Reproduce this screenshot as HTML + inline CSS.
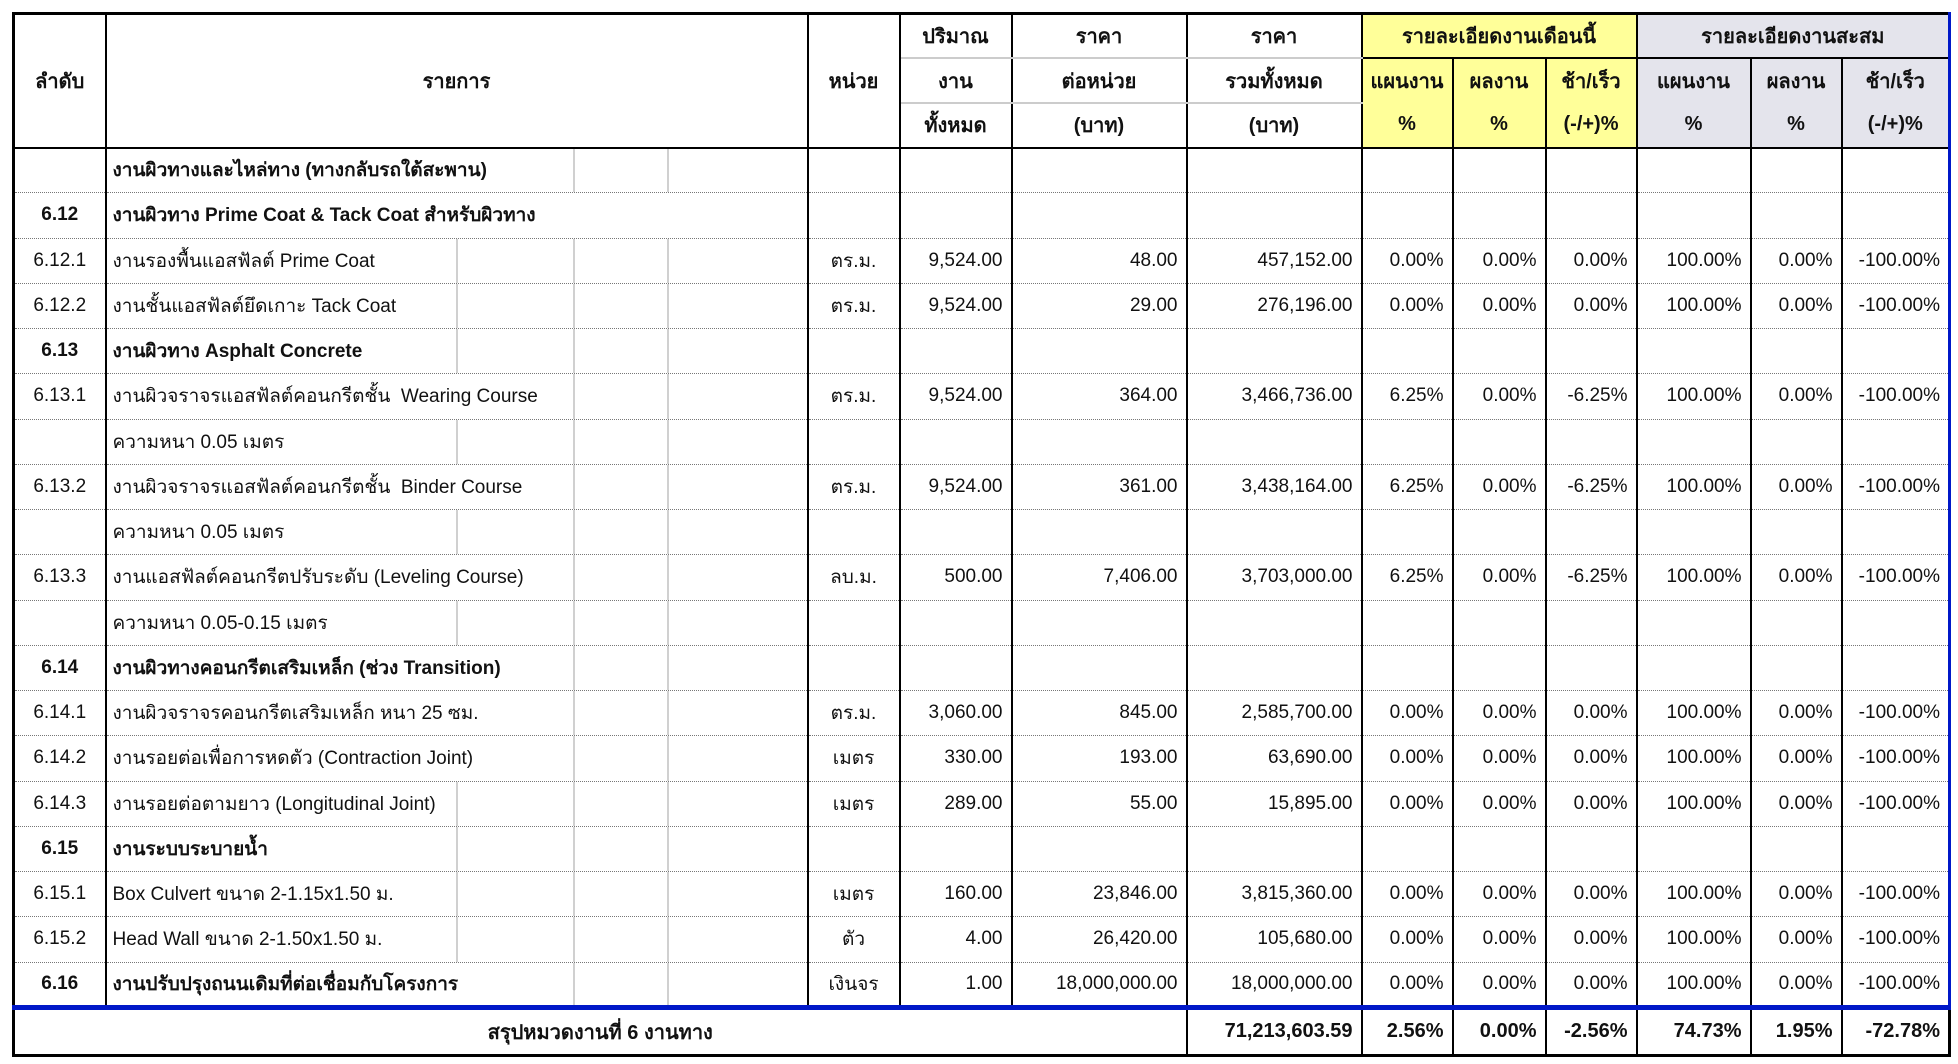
<!DOCTYPE html>
<html><head><meta charset="utf-8">
<style>
body{margin:0;background:#fff;width:1958px;height:1064px;overflow:hidden;font-family:"Liberation Sans","DejaVu Sans",sans-serif;}
table{position:absolute;left:12px;top:12px;border-collapse:collapse;table-layout:fixed;width:1936px;font-size:19px;color:#111;}
td{padding:0 6px;white-space:nowrap;overflow:hidden;border-left:2px solid #000;border-right:2px solid #000;border-bottom:1px dotted #777;vertical-align:middle;}
.h td{border-bottom:none;text-align:center;font-size:20px;font-weight:bold;}
.hr{height:44.7px}
.dr{height:45.26px}
.n{text-align:right;padding-right:8px}
.c{text-align:center}
.b{font-weight:bold}
.y{background:#ffff99}
.g{background:#e4e4ec}
.lg{border-bottom:2px solid #ccc!important}
.l3{background:linear-gradient(90deg,transparent 349px,#d0d0d0 349px,#d0d0d0 351px,transparent 351px,transparent 466px,#d0d0d0 466px,#d0d0d0 468px,transparent 468px,transparent 560px,#d0d0d0 560px,#d0d0d0 562px,transparent 562px)}
.l2{background:linear-gradient(90deg,transparent 466px,#d0d0d0 466px,#d0d0d0 468px,transparent 468px,transparent 560px,#d0d0d0 560px,#d0d0d0 562px,transparent 562px)}
.sum td{border-top:5px solid #0018c8;border-bottom:3px solid #000;height:44px;font-size:20px;font-weight:bold}
</style></head><body>
<table>
<colgroup><col style="width:92px"><col style="width:702px"><col style="width:92px"><col style="width:112px"><col style="width:175px"><col style="width:175px"><col style="width:91px"><col style="width:93px"><col style="width:91px"><col style="width:114px"><col style="width:91px"><col style="width:108px"></colgroup>
<tr class="h hr" style="border-top:3px solid #000"><td rowspan="3" style="border-bottom:2px solid #000;border-left:3px solid #000">ลำดับ</td><td rowspan="3" style="border-bottom:2px solid #000">รายการ</td><td rowspan="3" style="border-bottom:2px solid #000">หน่วย</td><td class="lg">ปริมาณ</td><td class="lg">ราคา</td><td class="lg">ราคา</td><td colspan="3" class="y" style="border-bottom:2px solid #000">รายละเอียดงานเดือนนี้</td><td colspan="3" class="g" style="border-bottom:2px solid #000;border-right:3px solid #0018c8">รายละเอียดงานสะสม</td></tr>
<tr class="h hr"><td class="lg">งาน</td><td class="lg">ต่อหน่วย</td><td class="lg">รวมทั้งหมด</td><td class="y">แผนงาน</td><td class="y">ผลงาน</td><td class="y">ช้า/เร็ว</td><td class="g">แผนงาน</td><td class="g">ผลงาน</td><td class="g" style="border-right:3px solid #0018c8">ช้า/เร็ว</td></tr>
<tr class="h hr"><td style="border-bottom:2px solid #000">ทั้งหมด</td><td style="border-bottom:2px solid #000">(บาท)</td><td style="border-bottom:2px solid #000">(บาท)</td><td class="y" style="border-bottom:2px solid #000">%</td><td class="y" style="border-bottom:2px solid #000">%</td><td class="y" style="border-bottom:2px solid #000">(-/+)%</td><td class="g" style="border-bottom:2px solid #000">%</td><td class="g" style="border-bottom:2px solid #000">%</td><td class="g" style="border-bottom:2px solid #000;border-right:3px solid #0018c8">(-/+)%</td></tr>
<tbody style="border-left:3px solid #000;border-right:3px solid #0018c8">
<tr class="dr"><td></td><td class="b l2">งานผิวทางและไหล่ทาง (ทางกลับรถใต้สะพาน)</td><td></td><td></td><td></td><td></td><td></td><td></td><td></td><td></td><td></td><td></td></tr>
<tr class="dr"><td class="c b">6.12</td><td class="b">งานผิวทาง Prime Coat &amp; Tack Coat สำหรับผิวทาง</td><td></td><td></td><td></td><td></td><td></td><td></td><td></td><td></td><td></td><td></td></tr>
<tr class="dr"><td class="c">6.12.1</td><td class="l3">งานรองพื้นแอสฟัลต์ Prime Coat</td><td class="c">ตร.ม.</td><td class="n">9,524.00</td><td class="n">48.00</td><td class="n">457,152.00</td><td class="n">0.00%</td><td class="n">0.00%</td><td class="n">0.00%</td><td class="n">100.00%</td><td class="n">0.00%</td><td class="n">-100.00%</td></tr>
<tr class="dr"><td class="c">6.12.2</td><td class="l3">งานชั้นแอสฟัลต์ยึดเกาะ Tack Coat</td><td class="c">ตร.ม.</td><td class="n">9,524.00</td><td class="n">29.00</td><td class="n">276,196.00</td><td class="n">0.00%</td><td class="n">0.00%</td><td class="n">0.00%</td><td class="n">100.00%</td><td class="n">0.00%</td><td class="n">-100.00%</td></tr>
<tr class="dr"><td class="c b">6.13</td><td class="b l3">งานผิวทาง Asphalt Concrete</td><td></td><td></td><td></td><td></td><td></td><td></td><td></td><td></td><td></td><td></td></tr>
<tr class="dr"><td class="c">6.13.1</td><td class="l2">งานผิวจราจรแอสฟัลต์คอนกรีตชั้น &nbsp;Wearing Course</td><td class="c">ตร.ม.</td><td class="n">9,524.00</td><td class="n">364.00</td><td class="n">3,466,736.00</td><td class="n">6.25%</td><td class="n">0.00%</td><td class="n">-6.25%</td><td class="n">100.00%</td><td class="n">0.00%</td><td class="n">-100.00%</td></tr>
<tr class="dr"><td></td><td class="l3">ความหนา 0.05 เมตร</td><td></td><td></td><td></td><td></td><td></td><td></td><td></td><td></td><td></td><td></td></tr>
<tr class="dr"><td class="c">6.13.2</td><td class="l2">งานผิวจราจรแอสฟัลต์คอนกรีตชั้น &nbsp;Binder Course</td><td class="c">ตร.ม.</td><td class="n">9,524.00</td><td class="n">361.00</td><td class="n">3,438,164.00</td><td class="n">6.25%</td><td class="n">0.00%</td><td class="n">-6.25%</td><td class="n">100.00%</td><td class="n">0.00%</td><td class="n">-100.00%</td></tr>
<tr class="dr"><td></td><td class="l3">ความหนา 0.05 เมตร</td><td></td><td></td><td></td><td></td><td></td><td></td><td></td><td></td><td></td><td></td></tr>
<tr class="dr"><td class="c">6.13.3</td><td class="l2">งานแอสฟัลต์คอนกรีตปรับระดับ (Leveling Course)</td><td class="c">ลบ.ม.</td><td class="n">500.00</td><td class="n">7,406.00</td><td class="n">3,703,000.00</td><td class="n">6.25%</td><td class="n">0.00%</td><td class="n">-6.25%</td><td class="n">100.00%</td><td class="n">0.00%</td><td class="n">-100.00%</td></tr>
<tr class="dr"><td></td><td class="l3">ความหนา 0.05-0.15 เมตร</td><td></td><td></td><td></td><td></td><td></td><td></td><td></td><td></td><td></td><td></td></tr>
<tr class="dr"><td class="c b">6.14</td><td class="b l2">งานผิวทางคอนกรีตเสริมเหล็ก (ช่วง Transition)</td><td></td><td></td><td></td><td></td><td></td><td></td><td></td><td></td><td></td><td></td></tr>
<tr class="dr"><td class="c">6.14.1</td><td class="l2">งานผิวจราจรคอนกรีตเสริมเหล็ก หนา 25 ซม.</td><td class="c">ตร.ม.</td><td class="n">3,060.00</td><td class="n">845.00</td><td class="n">2,585,700.00</td><td class="n">0.00%</td><td class="n">0.00%</td><td class="n">0.00%</td><td class="n">100.00%</td><td class="n">0.00%</td><td class="n">-100.00%</td></tr>
<tr class="dr"><td class="c">6.14.2</td><td class="l2">งานรอยต่อเพื่อการหดตัว (Contraction Joint)</td><td class="c">เมตร</td><td class="n">330.00</td><td class="n">193.00</td><td class="n">63,690.00</td><td class="n">0.00%</td><td class="n">0.00%</td><td class="n">0.00%</td><td class="n">100.00%</td><td class="n">0.00%</td><td class="n">-100.00%</td></tr>
<tr class="dr"><td class="c">6.14.3</td><td class="l3">งานรอยต่อตามยาว (Longitudinal Joint)</td><td class="c">เมตร</td><td class="n">289.00</td><td class="n">55.00</td><td class="n">15,895.00</td><td class="n">0.00%</td><td class="n">0.00%</td><td class="n">0.00%</td><td class="n">100.00%</td><td class="n">0.00%</td><td class="n">-100.00%</td></tr>
<tr class="dr"><td class="c b">6.15</td><td class="b l3">งานระบบระบายน้ำ</td><td></td><td></td><td></td><td></td><td></td><td></td><td></td><td></td><td></td><td></td></tr>
<tr class="dr"><td class="c">6.15.1</td><td class="l3">Box Culvert ขนาด 2-1.15x1.50 ม.</td><td class="c">เมตร</td><td class="n">160.00</td><td class="n">23,846.00</td><td class="n">3,815,360.00</td><td class="n">0.00%</td><td class="n">0.00%</td><td class="n">0.00%</td><td class="n">100.00%</td><td class="n">0.00%</td><td class="n">-100.00%</td></tr>
<tr class="dr"><td class="c">6.15.2</td><td class="l3">Head Wall ขนาด 2-1.50x1.50 ม.</td><td class="c">ตัว</td><td class="n">4.00</td><td class="n">26,420.00</td><td class="n">105,680.00</td><td class="n">0.00%</td><td class="n">0.00%</td><td class="n">0.00%</td><td class="n">100.00%</td><td class="n">0.00%</td><td class="n">-100.00%</td></tr>
<tr class="dr"><td class="c b">6.16</td><td class="b l2">งานปรับปรุงถนนเดิมที่ต่อเชื่อมกับโครงการ</td><td class="c">เงินจร</td><td class="n">1.00</td><td class="n">18,000,000.00</td><td class="n">18,000,000.00</td><td class="n">0.00%</td><td class="n">0.00%</td><td class="n">0.00%</td><td class="n">100.00%</td><td class="n">0.00%</td><td class="n">-100.00%</td></tr>
<tr class="sum"><td colspan="5" class="c" style="border-left:3px solid #000">สรุปหมวดงานที่ 6 งานทาง</td><td class="n">71,213,603.59</td><td class="n">2.56%</td><td class="n">0.00%</td><td class="n">-2.56%</td><td class="n">74.73%</td><td class="n">1.95%</td><td class="n" style="border-right:3px solid #000">-72.78%</td></tr>
</tbody>
</table>
</body></html>
